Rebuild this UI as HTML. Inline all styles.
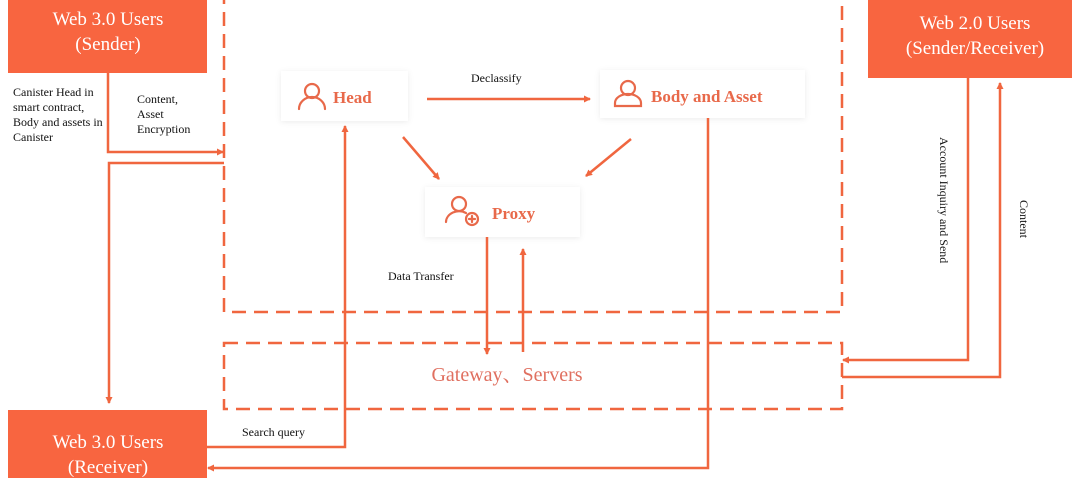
<!DOCTYPE html>
<html><head><meta charset="utf-8"><style>
html,body{margin:0;padding:0;background:#fff;}
svg{display:block;}
</style></head><body>
<svg width="1080" height="478" viewBox="0 0 1080 478" xmlns="http://www.w3.org/2000/svg" font-family="'Liberation Serif', 'Noto Serif CJK SC', serif">
<defs>
<marker id="a" markerWidth="8" markerHeight="8" refX="6" refY="4" orient="auto" markerUnits="userSpaceOnUse">
<path d="M0,0.5 L7,4 L0,7.5 z" fill="#f0663f"/></marker>
<filter id="sh" x="-20%" y="-30%" width="140%" height="160%"><feDropShadow dx="0" dy="1" stdDeviation="3" flood-color="#000" flood-opacity="0.08"/></filter>
</defs>
<g stroke="#f0663f" stroke-width="2.5" fill="none" stroke-dasharray="14,8">
<path d="M224,-10 V312 H842 V-10"/>
<rect x="224" y="343" width="618" height="66"/>
</g>
<rect x="8" y="0" width="199" height="73" fill="#f86540"/>
<rect x="868" y="0" width="204" height="78" fill="#f86540"/>
<rect x="8" y="410" width="199" height="68" fill="#f86540"/>
<g fill="#fff" font-size="19" text-anchor="middle">
<text x="108" y="25">Web 3.0 Users</text><text x="108" y="50">(Sender)</text>
<text x="975" y="29">Web 2.0 Users</text><text x="975" y="54">(Sender/Receiver)</text>
<text x="108" y="448">Web 3.0 Users</text><text x="108" y="473">(Receiver)</text>
</g>
<g fill="#fff" filter="url(#sh)">
<rect x="281" y="71" width="127" height="50"/>
<rect x="600" y="70" width="205" height="48"/>
<rect x="425" y="187" width="155" height="50"/>
</g>
<g stroke="#e8694a" stroke-width="2.2" fill="none" stroke-linecap="round">
<circle cx="312" cy="91" r="7"/><path d="M299,109 a13,12 0 0 1 26,0"/>
<circle cx="628" cy="88" r="7"/><path d="M615,106 v-3 a13,9 0 0 1 26,0 v3 z"/>
<circle cx="459" cy="204" r="7"/><path d="M446,222 a13,11 0 0 1 20,-9"/>
<circle cx="472" cy="219" r="6"/><path d="M469,219 h6 M472,216 v6"/>
</g>
<g fill="#e8694a" font-weight="bold" font-size="17">
<text x="333" y="103">Head</text>
<text x="651" y="102">Body and Asset</text>
<text x="492" y="219">Proxy</text>
</g>
<text x="507" y="381" text-anchor="middle" font-size="20" fill="#e07060">Gateway、Servers</text>
<g stroke="#f0663f" stroke-width="2.5" fill="none">
<path d="M427,99 H590" marker-end="url(#a)"/>
<path d="M403,137 L439,179" marker-end="url(#a)"/>
<path d="M631,139 L586,176" marker-end="url(#a)"/>
<path d="M487,237 V354" marker-end="url(#a)"/>
<path d="M523,352 V249" marker-end="url(#a)"/>
<path d="M108,73 V152 H223" marker-end="url(#a)"/>
<path d="M224,163 H109 V403" marker-end="url(#a)"/>
<path d="M207,447 H345 V126" marker-end="url(#a)"/>
<path d="M708,118 V468 H208" marker-end="url(#a)"/>
<path d="M968,78 V360 H843" marker-end="url(#a)"/>
<path d="M842,377 H1000 V83" marker-end="url(#a)"/>
</g>
<g fill="#111" font-size="12">
<text x="13" y="96">Canister Head in</text>
<text x="13" y="111">smart contract,</text>
<text x="13" y="126">Body and assets in</text>
<text x="13" y="141">Canister</text>
<text x="137" y="103">Content,</text>
<text x="137" y="118">Asset</text>
<text x="137" y="133">Encryption</text>
<text x="471" y="82">Declassify</text>
<text x="388" y="280">Data Transfer</text>
<text x="242" y="436">Search query</text>
<text transform="translate(940,137) rotate(90)">Account Inquiry and Send</text>
<text transform="translate(1020,200) rotate(90)">Content</text>
</g>
</svg>
</body></html>
